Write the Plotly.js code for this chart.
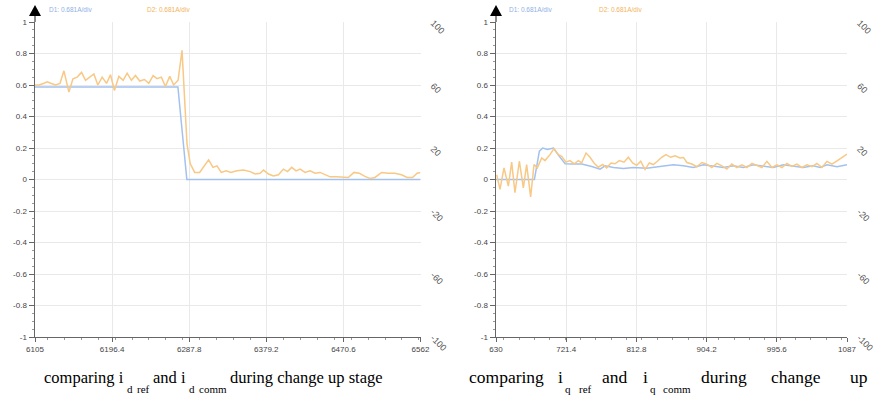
<!DOCTYPE html>
<html><head><meta charset="utf-8">
<script src="https://cdn.plot.ly/plotly-3.0.1.min.js"></script>
<style>body{margin:0;background:#fff}#c{width:874px;height:404px}</style>
</head><body><div id="c"></div>
<script>
// ---- Left chart: d-axis current ----
const dRefX = [6105, 6274.4, 6285, 6562];
const dRefY = [0.587, 0.587, 0, 0];
const dCommX = [6105, 6109.7, 6114.9, 6119.6, 6124.3, 6129.4, 6134.6, 6139.3, 6145.2, 6150, 6155, 6160.2, 6164.9, 6170, 6174.8, 6179.5, 6184.6, 6189.8, 6194.5, 6199.2, 6204.4, 6209.5, 6214.2, 6219.3, 6224.1, 6229.2, 6234.7, 6239.9, 6245, 6249.7, 6254.8, 6259.6, 6264.7, 6269.4, 6274.6, 6279.3, 6282.4, 6285.2, 6289.1, 6294.3, 6300.2, 6305.7, 6310.8, 6316, 6320.7, 6325.8, 6331.7, 6337.2, 6344.3, 6352.2, 6360.1, 6366, 6371.9, 6375.9, 6381.8, 6387.7, 6393.6, 6399.5, 6404.3, 6409.4, 6414.5, 6419.3, 6425.2, 6431.1, 6437, 6442.9, 6448.8, 6454.8, 6462.6, 6470.5, 6476.4, 6483.1, 6489.4, 6496.1, 6502, 6508, 6515.9, 6523.7, 6531.6, 6539.5, 6546.2, 6552.5, 6558, 6562];
const dCommY = [0.60, 0.60, 0.61, 0.62, 0.61, 0.60, 0.61, 0.69, 0.555, 0.64, 0.65, 0.68, 0.63, 0.65, 0.67, 0.60, 0.65, 0.61, 0.665, 0.565, 0.655, 0.63, 0.675, 0.63, 0.66, 0.625, 0.635, 0.61, 0.66, 0.64, 0.65, 0.59, 0.655, 0.60, 0.63, 0.82, 0.52, 0.225, 0.10, 0.045, 0.045, 0.09, 0.125, 0.077, 0.087, 0.045, 0.055, 0.045, 0.055, 0.06, 0.05, 0.035, 0.04, 0.06, 0.035, 0.023, 0.03, 0.066, 0.05, 0.077, 0.055, 0.066, 0.045, 0.055, 0.04, 0.045, 0.03, 0.017, 0.017, 0.017, 0.013, 0.045, 0.04, 0.02, 0.006, 0.013, 0.045, 0.04, 0.04, 0.03, 0.013, 0.013, 0.04, 0.045];

// ---- Right chart: q-axis current ----
const qRefX = [630, 680, 686.5, 690.8, 697, 704.7, 712, 720, 730, 741.6, 754.7, 765.5, 772, 783, 796, 809, 826, 843, 861, 874, 887, 900, 913, 926, 939, 952, 965, 978, 991, 1004, 1017, 1030, 1043, 1052, 1061, 1074, 1087];
const qRefY = [0, 0, 0.18, 0.2, 0.19, 0.2, 0.15, 0.1, 0.098, 0.098, 0.083, 0.066, 0.087, 0.076, 0.07, 0.076, 0.072, 0.083, 0.093, 0.087, 0.076, 0.093, 0.083, 0.076, 0.087, 0.076, 0.093, 0.083, 0.076, 0.093, 0.083, 0.076, 0.087, 0.076, 0.093, 0.081, 0.093];
const qCommX = [630.9, 635.2, 640.4, 646.1, 650.4, 654.7, 660.4, 665.6, 669.9, 675.1, 679.5, 683.8, 689.5, 693.8, 700.3, 705.5, 711.2, 715.5, 721.1, 726.3, 732, 737.2, 741.5, 747.2, 752.4, 757.6, 763.2, 768.9, 774.1, 779.7, 784.9, 790.6, 796.7, 802.3, 807.9, 813.2, 818.4, 824, 829.6, 834.8, 840.1, 845.7, 851.3, 857.4, 863.1, 869.6, 874.1, 878.5, 885, 891.5, 898, 904.5, 911, 917.6, 924.1, 930.6, 937.1, 943.6, 950.2, 956.7, 963.2, 969.7, 976.2, 982.7, 989.3, 995.8, 1002.3, 1008.8, 1015.3, 1021.8, 1028.3, 1034.9, 1041.4, 1047.9, 1054.4, 1060.9, 1067.4, 1074, 1080.5, 1087];
const qCommY = [0.03, -0.063, 0.074, -0.042, 0.11, -0.084, 0.116, -0.053, 0.095, -0.11, 0.095, 0.074, 0.137, 0.12, 0.158, 0.196, 0.158, 0.147, 0.11, 0.12, 0.1, 0.12, 0.105, 0.168, 0.141, 0.105, 0.078, 0.095, 0.074, 0.105, 0.1, 0.12, 0.11, 0.141, 0.105, 0.09, 0.116, 0.063, 0.105, 0.095, 0.116, 0.141, 0.158, 0.141, 0.15, 0.137, 0.14, 0.108, 0.098, 0.081, 0.108, 0.098, 0.076, 0.102, 0.087, 0.066, 0.098, 0.076, 0.093, 0.076, 0.102, 0.087, 0.076, 0.115, 0.076, 0.093, 0.076, 0.102, 0.083, 0.098, 0.076, 0.093, 0.081, 0.102, 0.076, 0.115, 0.098, 0.119, 0.14, 0.161];

// ---- Tick labels ----
const dTickVals = [6105, 6196.4, 6287.8, 6379.2, 6470.6, 6562];
const dTickText = ["6105", "6196.4", "6287.8", "6379.2", "6470.6", "6562"];
const qTickVals = [630, 721.4, 812.8, 904.2, 995.6, 1087];
const qTickText = ["630", "721.4", "812.8", "904.2", "995.6", "1087"];
const yTickVals = [-1, -0.8, -0.6, -0.4, -0.2, 0, 0.2, 0.4, 0.6, 0.8, 1];
const yTickText = ["-1", "-0.8", "-0.6", "-0.4", "-0.2", "0", "0.2", "0.4", "0.6", "0.8", "1"];
const y2TickVals = [-100, -60, -20, 20, 60, 100];
const y2TickText = ["-100", "-60", "-20", "20", "60", "100"];
const legendText = ["D1: 0.681A/div", "D2: 0.681A/div"];
// caption pieces: [text, isSubscript, left x px]
const capLeft = [["comparing i", false, 43], ["d", true, 126], ["ref", true, 136], ["and i", false, 152], ["d", true, 188], ["comm", true, 198], ["during change up stage", false, 229]];
const capRight = [["comparing", false, 468], ["i", false, 557], ["q", true, 564], ["ref", true, 578], ["and", false, 601], ["i", false, 642], ["q", true, 649], ["comm", true, 662], ["during", false, 700], ["change", false, 770], ["up", false, 849]];

const W = 874, H = 404;
const BLUE = "#a3c1ef", ORANGE = "#f8c885";
const tickFont = {family: "Liberation Sans, Arial, sans-serif", size: 8, color: "#444"};

function px(x) { return x / W; }
function py(y) { return 1 - y / H; }

const yDom = [py(337), py(22)];
const xDomL = [px(35), px(420.5)];
const xDomR = [px(496), px(847)];

function xAxis(vals, text, range, domain, anchor) {
  return {domain: domain, range: range, anchor: anchor, tickvals: vals, ticktext: text,
    showgrid: true, gridcolor: "#e9e9e9", gridwidth: 1, zeroline: false,
    showline: true, linecolor: "#666", linewidth: 1.2, ticks: "outside", ticklen: 4,
    tickcolor: "#666", tickfont: tickFont,
    minor: {ticks: "outside", ticklen: 2, tickcolor: "#999", nticks: 5, showgrid: false}};
}
function yAxis(domain, anchor) {
  return {domain: domain, range: [-1, 1], anchor: anchor, tickvals: yTickVals, ticktext: yTickText,
    showgrid: true, gridcolor: "#e9e9e9", gridwidth: 1, zeroline: false,
    showline: true, linecolor: "#666", linewidth: 1.5, ticks: "outside", ticklen: 5,
    tickcolor: "#666", tickfont: tickFont,
    minor: {ticks: "outside", ticklen: 2, tickcolor: "#999", tickvals: [-0.95,-0.9,-0.85,-0.75,-0.7,-0.65,-0.55,-0.5,-0.45,-0.35,-0.3,-0.25,-0.15,-0.1,-0.05,0.05,0.1,0.15,0.25,0.3,0.35,0.45,0.5,0.55,0.65,0.7,0.75,0.85,0.9,0.95], showgrid: false}};
}
function y2Axis(overlay, anchor) {
  return {overlaying: overlay, side: "right", anchor: anchor, range: [-100, 100],
    tickvals: y2TickVals, ticktext: y2TickText, tickangle: 45, showgrid: false, zeroline: false,
    showline: false, ticks: "outside", ticklen: 10, tickcolor: "rgba(0,0,0,0)",
    tickfont: {family: "Liberation Sans, Arial, sans-serif", size: 9, color: "#555"}};
}

const traces = [
  {x: dRefX, y: dRefY, xaxis: "x", yaxis: "y", mode: "lines", line: {color: BLUE, width: 1.5}},
  {x: dCommX, y: dCommY, xaxis: "x", yaxis: "y", mode: "lines", line: {color: ORANGE, width: 1.5}},
  {x: [6105], y: [0], xaxis: "x", yaxis: "y2", mode: "lines", hoverinfo: "skip"},
  {x: qRefX, y: qRefY, xaxis: "x2", yaxis: "y3", mode: "lines", line: {color: BLUE, width: 1.5}},
  {x: qCommX, y: qCommY, xaxis: "x2", yaxis: "y3", mode: "lines", line: {color: ORANGE, width: 1.5}},
  {x: [630], y: [0], xaxis: "x2", yaxis: "y4", mode: "lines", hoverinfo: "skip"}
];

function arrowShapes(xp) {
  const x = px(xp), dx = 6 / W;
  return [
    {type: "line", xref: "paper", yref: "paper", x0: x, x1: x, y0: py(22), y1: py(16), line: {color: "#666", width: 1.5}},
    {type: "path", xref: "paper", yref: "paper", path: `M ${x - dx} ${py(16)} L ${x + dx} ${py(16)} L ${x} ${py(5)} Z`, fillcolor: "#000", line: {width: 0}}
  ];
}

const legFont = (c) => ({family: "Liberation Sans, Arial, sans-serif", size: 6.5, color: c});
const SERIF = "Liberation Serif, Times New Roman, serif";

const annotations = [
  {xref: "paper", yref: "paper", x: px(47), y: py(9), xanchor: "left", yanchor: "middle", text: legendText[0], showarrow: false, font: legFont("#8fb0e6")},
  {xref: "paper", yref: "paper", x: px(145), y: py(9), xanchor: "left", yanchor: "middle", text: legendText[1], showarrow: false, font: legFont("#f3b45c")},
  {xref: "paper", yref: "paper", x: px(507), y: py(9), xanchor: "left", yanchor: "middle", text: legendText[0], showarrow: false, font: legFont("#8fb0e6")},
  {xref: "paper", yref: "paper", x: px(597), y: py(9), xanchor: "left", yanchor: "middle", text: legendText[1], showarrow: false, font: legFont("#f3b45c")}
];
function addCaption(pieces, mainSize) {
  for (const piece of pieces) {
    const [t, sub, xl] = piece;
    annotations.push({xref: "paper", yref: "paper", x: px(xl), y: py(sub ? 389 : 377), xanchor: "left", yanchor: "middle",
      showarrow: false, borderpad: 0, text: t, font: {family: SERIF, size: sub ? 11 : mainSize, color: "#000"}});
  }
}
addCaption(capLeft, 16.5);
addCaption(capRight, 17.5);

const layout = {
  width: W, height: H, margin: {l: 0, r: 0, t: 0, b: 0},
  paper_bgcolor: "#fff", plot_bgcolor: "#fff", showlegend: false,
  xaxis: xAxis(dTickVals, dTickText, [6105, 6562], xDomL, "y"),
  yaxis: yAxis(yDom, "x"),
  yaxis2: y2Axis("y", "x"),
  xaxis2: xAxis(qTickVals, qTickText, [630, 1087], xDomR, "y3"),
  yaxis3: yAxis(yDom, "x2"),
  yaxis4: y2Axis("y3", "x2"),
  shapes: [...arrowShapes(35), ...arrowShapes(496)],
  annotations: annotations
};

Plotly.newPlot("c", traces, layout, {staticPlot: true, displayModeBar: false});
</script>
</body></html>
